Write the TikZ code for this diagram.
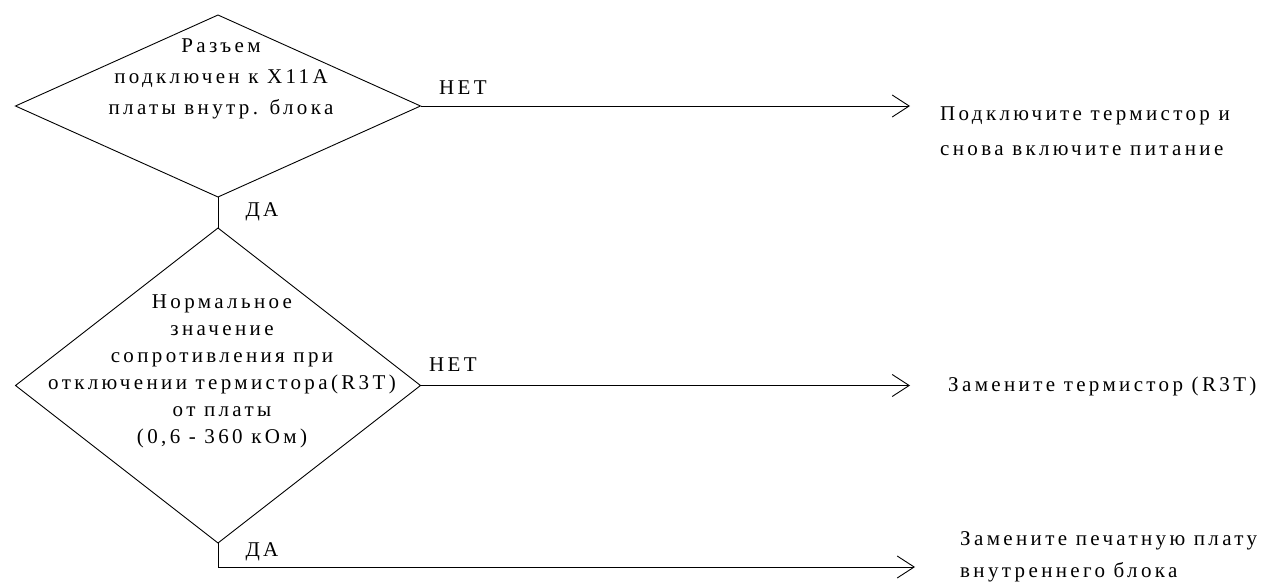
\documentclass[tikz,border=0pt]{standalone}
\usepackage{fontspec}
\setmainfont{Liberation Serif}[LetterSpace=16]
\usetikzlibrary{shapes.geometric,arrows.meta}
\begin{document}
\begin{tikzpicture}[x=1pt,y=-1pt,
  dec/.style={draw=black,line width=0.9pt,shape=diamond,inner sep=0pt,outer sep=0pt},
  conn/.style={draw=black,line width=0.9pt},
  arr/.style={conn,-{Straight Barb[length=17pt,width=22pt,line width=0.9pt]}},
  lbl/.style={font=\fontsize{21}{24}\selectfont,inner sep=0pt},
  txt/.style={font=\fontsize{21}{31}\selectfont,inner sep=0pt,align=center}]
\useasboundingbox (0,0) rectangle (1280,586);
\fill[white] (0,0) rectangle (1280,586);
% decisions
\node[dec,minimum width=405pt,minimum height=182pt] (d1) at (218,106) {};
\node[dec,minimum width=405pt,minimum height=315pt] (d2) at (218,385.5) {};
\node[txt] (t1) at (221,79) {Разъем\\подключен к X11A\\платы внутр. блока};
\node[txt,font=\fontsize{21}{27}\selectfont] (t2) at (222,371) {Нормальное\\значение\\сопротивления при\\отключении термистора(R3T)\\от платы\\(0,6 - 360 кОм)};
% results
\node[txt,anchor=west,align=left,font=\fontsize{21}{35}\selectfont] (r1) at (940,131) {Подключите термистор и\\снова включите питание};
\node[lbl,anchor=west] (r2) at (948,386) {Замените термистор (R3T)};
\node[txt,anchor=west,align=left,font=\fontsize{21}{32}\selectfont] (r3) at (960,557) {Замените печатную плату\\внутреннего блока};
% free ends
\coordinate (e1) at (910,106);
\coordinate (e2) at (910,385.5);
\coordinate (e3) at (915,567);
% connectors
\draw[arr] (d1.east) -- (e1);
\draw[conn] (d1.south) -- (d2.north);
\draw[arr] (d2.east) -- (e2);
\draw[arr] (d2.south) |- (e3);
% labels
\node[lbl] (n1) at (463,88) {НЕТ};
\node[lbl] (n2) at (453,365) {НЕТ};
\node[lbl] (y1) at (262,212) {ДА};
\node[lbl] (y2) at (262,552) {ДА};
\end{tikzpicture}
\end{document}
